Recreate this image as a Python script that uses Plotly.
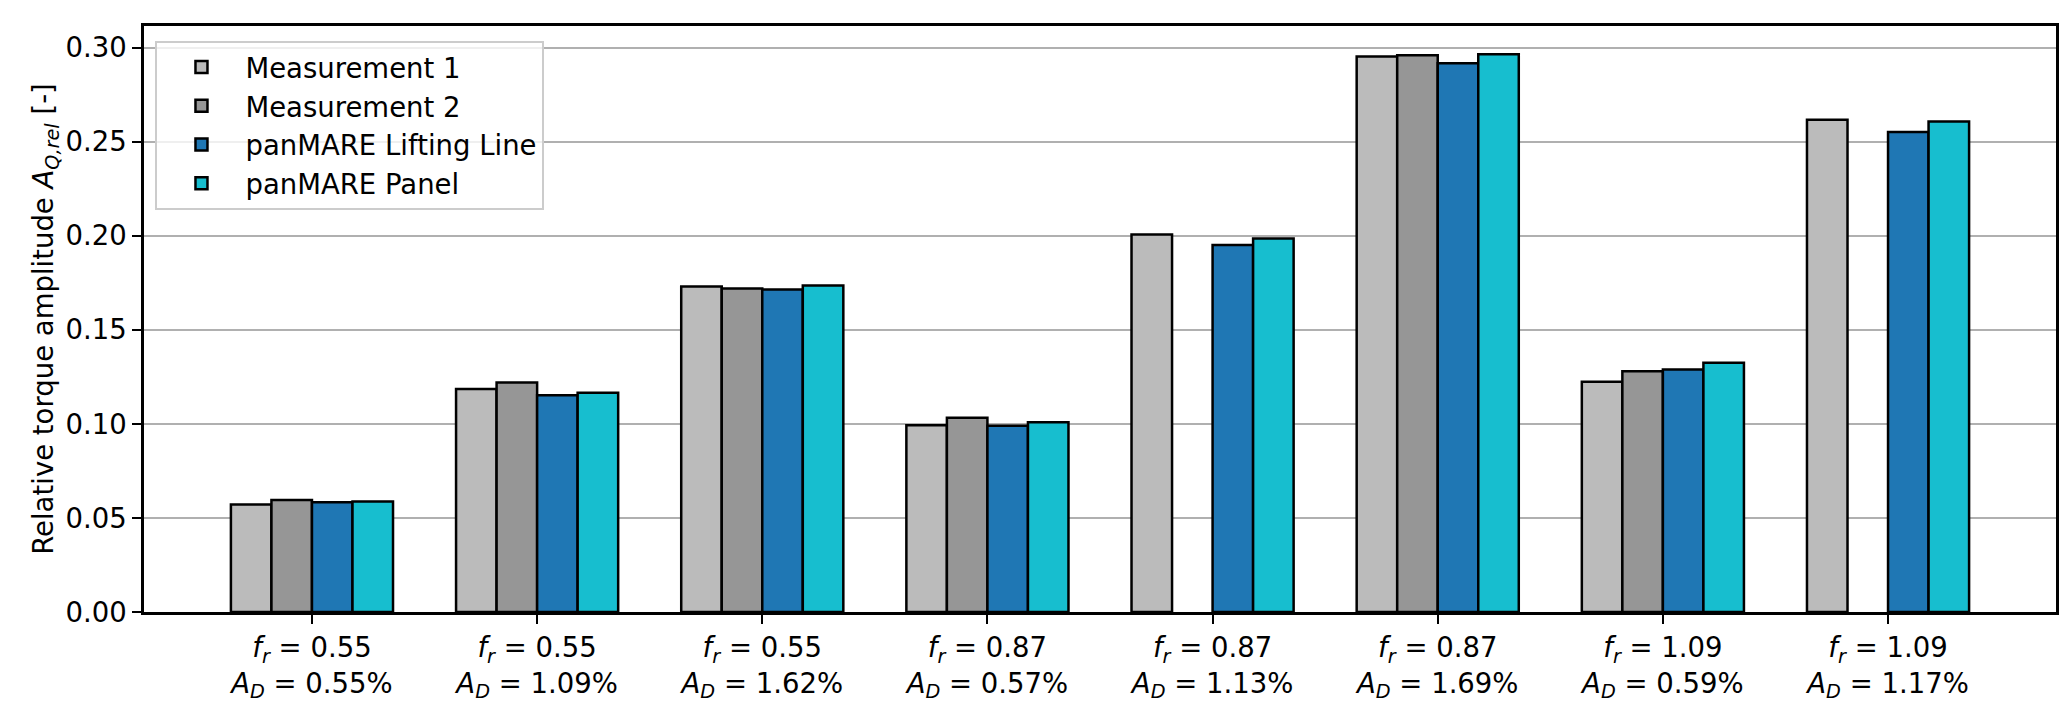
import plotly.graph_objects as go

# ---- data ----
groups_fr = ["0.55", "0.55", "0.55", "0.87", "0.87", "0.87", "1.09", "1.09"]
groups_ad = ["0.55%", "1.09%", "1.62%", "0.57%", "1.13%", "1.69%", "0.59%", "1.17%"]

measurement_1 = [0.0571, 0.1186, 0.1730, 0.0993, 0.2007, 0.2953, 0.1224, 0.2616]
measurement_2 = [0.0596, 0.1220, 0.1720, 0.1033, None, 0.2960, 0.1280, None]
lifting_line = [0.0584, 0.1152, 0.1714, 0.0990, 0.1951, 0.2917, 0.1289, 0.2551]
panel = [0.0587, 0.1166, 0.1735, 0.1009, 0.1986, 0.2965, 0.1325, 0.2607]

series_names = ["Measurement 1", "Measurement 2", "panMARE Lifting Line", "panMARE Panel"]
series_values = [measurement_1, measurement_2, lifting_line, panel]
series_colors = ["#bbbbbb", "#969696", "#1f77b4", "#17becf"]

tick_text = [f"<i>f</i><sub><i>r</i></sub> = {fr}<br><i>A</i><sub><i>D</i></sub> = {ad}"
             for fr, ad in zip(groups_fr, groups_ad)]
x_pos = list(range(len(groups_fr)))

bar_w = 0.18
FONT = "DejaVu Sans"
FS = 27.5

fig = go.Figure()
for i, (name, vals, col) in enumerate(zip(series_names, series_values, series_colors)):
    fig.add_trace(go.Bar(
        x=x_pos, y=vals, name=name,
        width=bar_w, offset=-2 * bar_w + i * bar_w,
        marker=dict(color=col, line=dict(color="black", width=2.5)),
    ))

fig.update_layout(
    width=2067, height=707,
    margin=dict(l=136, r=19, t=18, b=93),
    paper_bgcolor="white", plot_bgcolor="white",
    font=dict(family=FONT, size=FS, color="black"),
    barmode="overlay",
    showlegend=True,
    legend=dict(
        x=0.006, y=0.975, xanchor="left", yanchor="top",
        bgcolor="rgba(255,255,255,0.8)", bordercolor="#cccccc", borderwidth=2,
        font=dict(family=FONT, size=FS), tracegroupgap=0, itemwidth=78,
    ),
    xaxis=dict(
        range=[-0.746, 7.746],
        tickmode="array", tickvals=x_pos, ticktext=tick_text,
        showgrid=False, zeroline=False,
        showline=True, linecolor="black", linewidth=2.5, mirror=True,
        ticks="outside", ticklen=9, tickwidth=2.2, tickcolor="black",
        tickfont=dict(family=FONT, size=FS),
    ),
    yaxis=dict(
        range=[0, 0.3115],
        tickmode="array", tickvals=[0, 0.05, 0.10, 0.15, 0.20, 0.25, 0.30],
        tickformat=".2f",
        showgrid=True, gridcolor="#b0b0b0", gridwidth=2,
        zeroline=False,
        showline=True, linecolor="black", linewidth=2.5, mirror=True,
        ticks="outside", ticklen=9, tickwidth=2.2, tickcolor="black",
        tickfont=dict(family=FONT, size=FS),
        title=dict(text="Relative torque amplitude <i>A</i><sub><i>Q,rel</i></sub> [-]",
                   font=dict(family=FONT, size=FS), standoff=4),
    ),
)

fig.write_html("out.html")
